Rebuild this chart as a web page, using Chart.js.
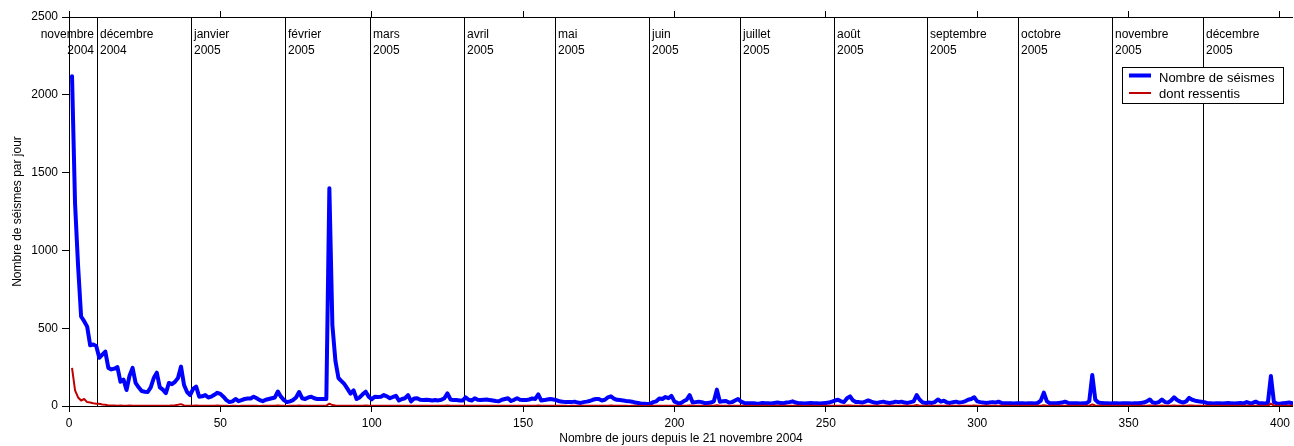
<!DOCTYPE html>
<html>
<head>
<meta charset="utf-8">
<script src="https://cdn.jsdelivr.net/npm/chart.js@4.4.1/dist/chart.umd.min.js"></script>
<style>
  html, body { margin: 0; padding: 0; background: #fff; overflow: hidden; }
</style>
</head>
<body>
<canvas id="seismes" width="1294" height="446"></canvas>
<script>
// nombre de séismes par jour, jour 1 = 21 novembre 2004
var seismes = [
  2120, 1300, 900, 575, 545, 510, 390, 395, 385, 310,
  330, 350, 245, 235, 240, 250, 156, 170, 103, 195,
  245, 148, 120, 96, 92, 90, 120, 180, 214, 120,
  105, 83, 148, 140, 155, 180, 253, 135, 90, 70,
  110, 124, 60, 62, 70, 55, 60, 72, 85, 78,
  60, 38, 25, 30, 45, 31, 38, 45, 48, 48,
  60, 50, 38, 31, 40, 45, 50, 55, 93, 60,
  38, 25, 30, 38, 55, 90, 50, 45, 55, 60,
  50, 45, 45, 45, 45, 1400, 520, 290, 180, 160,
  140, 110, 80, 100, 45, 55, 75, 92, 60, 43,
  60, 58, 60, 70, 62, 50, 58, 65, 35, 45,
  50, 70, 30, 48, 50, 40, 38, 40, 38, 35,
  38, 36, 40, 50, 81, 42, 38, 38, 36, 35,
  55, 40, 35, 50, 40, 38, 40, 42, 38, 35,
  32, 30, 40, 45, 50, 32, 40, 50, 40, 38,
  38, 42, 48, 45, 75, 35, 38, 42, 45, 42,
  38, 30, 28, 25, 25, 25, 28, 22, 20, 25,
  28, 32, 40, 45, 45, 35, 40, 55, 62, 48,
  40, 38, 36, 32, 30, 28, 22, 20, 15, 14,
  13, 15, 25, 30, 48, 45, 58, 50, 65, 28,
  20, 18, 30, 40, 70, 22, 25, 28, 25, 18,
  20, 22, 30, 105, 28, 30, 32, 22, 25, 35,
  45, 28, 20, 18, 17, 18, 16, 15, 20, 18,
  17, 16, 20, 22, 20, 18, 22, 25, 30, 22,
  18, 17, 16, 18, 20, 18, 17, 16, 18, 20,
  22, 28, 35, 40, 30, 25, 50, 62, 35, 25,
  25, 22, 28, 36, 28, 22, 20, 25, 28, 22,
  20, 22, 28, 25, 28, 22, 20, 25, 30, 70,
  40, 22, 20, 22, 20, 25, 42, 28, 34, 22,
  20, 24, 28, 22, 25, 30, 40, 45, 56, 30,
  25, 22, 20, 22, 25, 22, 28, 20, 18, 17,
  17, 16, 17, 18, 17, 16, 17, 18, 16, 20,
  35, 86, 30, 18, 17, 18, 20, 22, 28, 20,
  18, 17, 18, 16, 17, 18, 30, 199, 40, 22,
  20, 18, 17, 16, 17, 18, 16, 17, 18, 17,
  16, 17, 18, 20, 22, 30, 42, 22, 20, 25,
  42, 25, 22, 35, 56, 38, 28, 22, 30, 52,
  40, 34, 30, 28, 25, 18, 17, 16, 18, 17,
  16, 18, 20, 17, 16, 18, 20, 17, 25, 18,
  20, 28, 18, 17, 16, 20, 193, 25, 16, 15,
  18, 20, 22, 18, 16
];

// dont ressentis
var ressentis = [
  245, 100, 55, 35, 45, 25, 22, 18, 15, 14,
  10, 8, 4, 3, 3, 2, 3, 2, 2, 3,
  2, 2, 1, 2, 1, 1, 2, 1, 2, 1,
  1, 2, 1, 3, 5, 8, 12, 4, 2, 1,
  2, 3, 1, 1, 2, 1, 1, 2, 3, 2,
  1, 1, 0, 1, 1, 0, 1, 1, 1, 2,
  1, 1, 0, 1, 1, 1, 2, 1, 3, 1,
  1, 0, 1, 1, 2, 3, 1, 1, 2, 1,
  1, 1, 1, 1, 2, 15, 6, 3, 2, 2,
  1, 2, 1, 2, 1, 1, 2, 3, 1, 1,
  1, 2, 1, 1, 2, 1, 1, 2, 1, 1,
  1, 2, 1, 1, 1, 2, 1, 1, 1, 1,
  1, 1, 1, 2, 4, 1, 1, 1, 1, 1,
  2, 1, 1, 2, 1, 1, 1, 1, 2, 1,
  1, 1, 2, 1, 1, 2, 1, 1, 1, 1,
  1, 2, 1, 2, 4, 1, 1, 1, 1, 1,
  1, 1, 1, 1, 0, 1, 1, 0, 1, 1,
  1, 1, 1, 2, 1, 1, 1, 2, 3, 1,
  1, 1, 1, 1, 0, 1, 1, 0, 1, 0,
  0, 1, 1, 1, 2, 1, 2, 1, 2, 1,
  1, 0, 1, 1, 3, 1, 1, 1, 1, 0,
  1, 1, 1, 5, 1, 1, 1, 1, 1, 1,
  2, 1, 1, 0, 1, 1, 0, 1, 1, 1,
  1, 0, 1, 1, 1, 1, 1, 1, 2, 1,
  1, 1, 0, 1, 1, 1, 1, 0, 1, 1,
  1, 1, 2, 2, 1, 1, 3, 3, 1, 1,
  1, 1, 1, 2, 1, 1, 1, 1, 1, 1,
  1, 1, 1, 1, 1, 1, 1, 1, 2, 6,
  2, 1, 1, 1, 1, 1, 2, 1, 2, 1,
  1, 1, 1, 1, 1, 2, 2, 2, 3, 1,
  1, 1, 1, 1, 1, 1, 1, 1, 1, 1,
  1, 1, 1, 1, 1, 1, 1, 1, 1, 1,
  2, 5, 2, 1, 1, 1, 1, 1, 2, 1,
  1, 1, 1, 1, 1, 1, 2, 10, 3, 1,
  1, 1, 1, 1, 1, 1, 1, 1, 1, 1,
  1, 1, 1, 1, 1, 2, 3, 1, 1, 2,
  3, 1, 1, 2, 3, 2, 1, 1, 2, 4,
  3, 2, 1, 1, 1, 1, 1, 1, 1, 1,
  1, 1, 1, 1, 1, 1, 1, 1, 2, 1,
  1, 2, 1, 1, 1, 1, 15, 2, 1, 1,
  1, 1, 1, 1, 1
];

var xTicks = [0, 50, 100, 150, 200, 250, 300, 350, 400];
var yTicks = [0, 500, 1000, 1500, 2000, 2500];

var moisNoms = ['novembre', 'décembre', 'janvier', 'février', 'mars', 'avril', 'mai', 'juin',
  'juillet', 'août', 'septembre', 'octobre', 'novembre', 'décembre'];
var moisAnnees = ['2004', '2004', '2005', '2005', '2005', '2005', '2005', '2005',
  '2005', '2005', '2005', '2005', '2005', '2005'];
// jour où tombe le trait de début de mois (décembre 2004 -> décembre 2005)
var moisJours = [9.2, 40.2, 71.3, 99.4, 130.5, 160.5, 191.6, 221.6, 252.6, 283.5, 313.6, 344.6, 374.7];

function points(vals) {
  return vals.map(function (v, i) { return { x: i + 1, y: v }; });
}

var police = '"Liberation Sans", Arial, sans-serif';
Chart.defaults.font.family = police;
Chart.defaults.font.size = 12;
Chart.defaults.color = '#000';

// traits verticaux + noms des mois + légende encadrée
var moisPlugin = {
  id: 'mois',
  beforeDatasetsDraw: function (chart) {
    var ctx = chart.ctx, a = chart.chartArea, sx = chart.scales.x;
    ctx.save();
    ctx.strokeStyle = '#000';
    ctx.lineWidth = 1;
    moisJours.forEach(function (j) {
      var px = Math.round(sx.getPixelForValue(j)) + 0.5;
      ctx.beginPath();
      ctx.moveTo(px, a.top);
      ctx.lineTo(px, a.bottom);
      ctx.stroke();
    });
    ctx.font = '12px ' + police;
    ctx.fillStyle = '#000';
    ctx.textBaseline = 'alphabetic';
    moisNoms.forEach(function (nom, i) {
      var px;
      if (i === 0) {
        px = Math.round(sx.getPixelForValue(moisJours[0])) - 3;
        ctx.textAlign = 'right';
      } else {
        px = Math.round(sx.getPixelForValue(moisJours[i - 1])) + 3;
        ctx.textAlign = 'left';
      }
      ctx.fillText(nom, px, a.top + 21);
      ctx.fillText(moisAnnees[i], px, a.top + 37);
    });
    ctx.restore();
  },
  afterDatasetsDraw: function (chart) {
    var ctx = chart.ctx, a = chart.chartArea;
    var bx = a.right - 171, by = a.top + 50;
    ctx.save();
    ctx.fillStyle = '#fff';
    ctx.fillRect(bx, by, 161, 36);
    ctx.strokeStyle = '#000';
    ctx.lineWidth = 1;
    ctx.strokeRect(bx + 0.5, by + 0.5, 161, 36);
    ctx.font = '13px ' + police;
    ctx.textAlign = 'left';
    ctx.textBaseline = 'alphabetic';
    var lignes = [{ ds: chart.data.datasets[0], y: by + 8.5, t: by + 15 },
                  { ds: chart.data.datasets[1], y: by + 26, t: by + 30.5 }];
    lignes.forEach(function (l) {
      ctx.strokeStyle = l.ds.borderColor;
      ctx.lineWidth = l.ds.borderWidth;
      ctx.beginPath();
      ctx.moveTo(bx + 7, l.y);
      ctx.lineTo(bx + 29, l.y);
      ctx.stroke();
      ctx.fillStyle = '#000';
      ctx.fillText(l.ds.label, bx + 37, l.t);
    });
    ctx.restore();
  }
};

function memesTicks(scale) {
  scale.ticks = xTicks.map(function (v) { return { value: v }; });
}

function texteSimple(v) { return String(v); }

new Chart(document.getElementById('seismes'), {
  type: 'line',
  data: {
    datasets: [{
      label: 'Nombre de séismes',
      data: points(seismes),
      borderColor: '#0000ff',
      borderWidth: 4,
      borderJoinStyle: 'round',
      borderCapStyle: 'round',
      pointRadius: 0,
      tension: 0,
      order: 2
    }, {
      label: 'dont ressentis',
      data: points(ressentis),
      borderColor: '#c00000',
      borderWidth: 2,
      borderJoinStyle: 'round',
      pointRadius: 0,
      tension: 0,
      order: 1
    }]
  },
  options: {
    responsive: false,
    animation: false,
    devicePixelRatio: 1,
    events: [],
    layout: { padding: 0 },
    plugins: { legend: { display: false }, tooltip: { enabled: false } },
    scales: {
      x: {
        type: 'linear',
        position: 'bottom',
        min: 0,
        max: 404.3,
        afterBuildTicks: memesTicks,
        afterFit: function (s) { s.height = 40; },
        grid: { drawOnChartArea: false, color: '#000', tickLength: 6 },
        border: { color: '#000' },
        ticks: { padding: 4, callback: texteSimple },
        title: {
          display: true,
          text: 'Nombre de jours depuis le 21 novembre 2004',
          padding: { top: 0, bottom: 0 }
        }
      },
      x2: {
        type: 'linear',
        position: 'top',
        min: 0,
        max: 404.3,
        afterBuildTicks: memesTicks,
        afterFit: function (s) { s.height = 17; },
        grid: { drawOnChartArea: false, color: '#000', tickLength: 6 },
        border: { color: '#000' },
        ticks: { display: false }
      },
      y: {
        min: 0,
        max: 2500,
        afterBuildTicks: function (s) {
          s.ticks = yTicks.map(function (v) { return { value: v }; });
        },
        afterFit: function (s) { s.width = 69; },
        grid: { drawOnChartArea: false, color: '#000', tickLength: 7 },
        border: { color: '#000' },
        ticks: { padding: 4, callback: texteSimple },
        title: {
          display: true,
          text: 'Nombre de séismes par jour',
          padding: { top: 10, bottom: 0 }
        }
      }
    }
  },
  plugins: [moisPlugin]
});
</script>
</body>
</html>
